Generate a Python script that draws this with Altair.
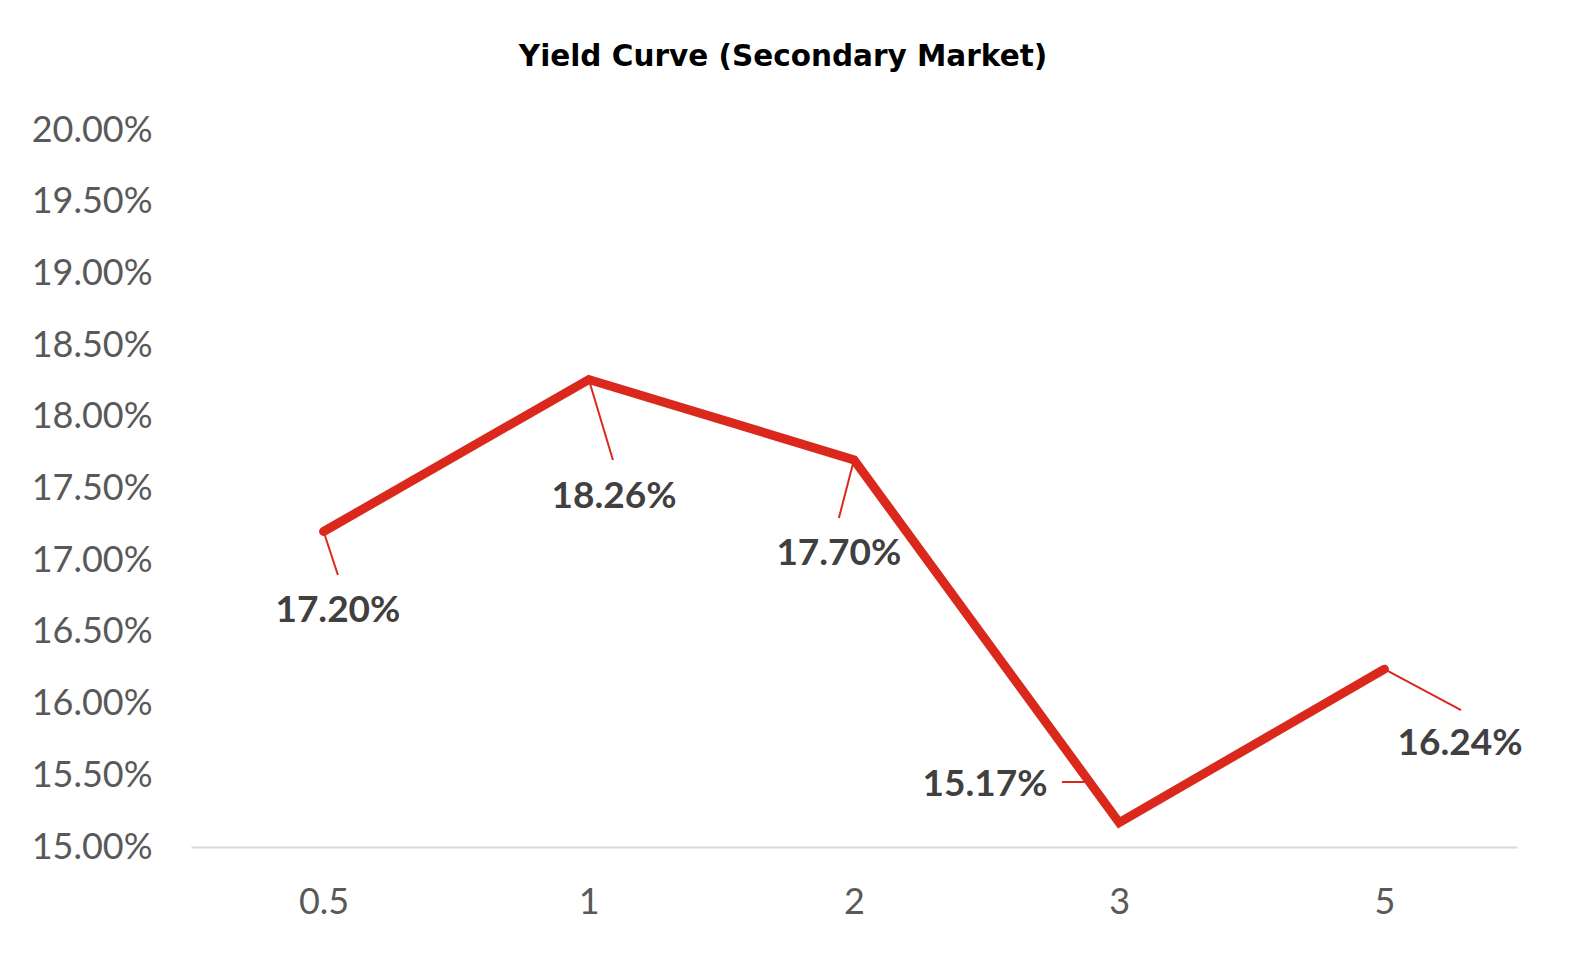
import altair as alt
import pandas as pd

# Data
tenors = ["0.5", "1", "2", "3", "5"]
yields = [0.1720, 0.1826, 0.1770, 0.1517, 0.1624]
label_text = ["17.20%", "18.26%", "17.70%", "15.17%", "16.24%"]

# Data-label anchor positions (in axis units: tenor index, yield)
label_x = [0.054, 1.095, 1.943, 2.494, 4.285]
label_y = [0.16667, 0.17462, 0.17064, 0.15453, 0.15739]
# Leader line ends (polyline points after the data point)
leader_pts = [
    [(0.054, 0.16897)],
    [(1.091, 0.17699)],
    [(1.943, 0.17294)],
    [(2.882, 0.15453), (2.784, 0.15453)],
    [(4.289, 0.15955)],
]

idx = list(range(len(tenors)))
df = pd.DataFrame({"i": idx, "tenor": tenors, "y": yields})
lab = pd.DataFrame({"lx": label_x, "ly": label_y, "t": label_text})

rows = []
for k in idx:
    rows.append({"k": k, "o": 0, "x": idx[k], "y": yields[k]})
    for j, (px, py) in enumerate(leader_pts[k]):
        rows.append({"k": k, "o": j + 1, "x": px, "y": py})
lead = pd.DataFrame(rows)

RED = "#DA291C"
xscale = alt.Scale(domain=[-0.5, 4.5], nice=False, zero=False)
yscale = alt.Scale(domain=[0.15, 0.20], nice=False, zero=False)

label_expr = "[" + ",".join("'%s'" % t for t in tenors) + "][datum.value]"

xaxis = alt.Axis(values=idx, labelExpr=label_expr, title=None, ticks=False, grid=False,
                 domainColor="#D9D9D9", domainWidth=2, labelFont="Lato", labelFontSize=36,
                 labelColor="#595959", labelPadding=38)
yaxis = alt.Axis(values=[0.15 + 0.005 * i for i in range(11)], format=".2%", title=None,
                 ticks=False, grid=False, domain=False, labelFont="Lato", labelFontSize=36,
                 labelColor="#595959", labelPadding=39)

base_line = alt.Chart(df).mark_line(color=RED, strokeWidth=9, strokeCap="round",
                                     strokeJoin="miter").encode(
    x=alt.X("i:Q", scale=xscale, axis=xaxis),
    y=alt.Y("y:Q", scale=yscale, axis=yaxis),
)

leaders = alt.Chart(lead).mark_line(color=RED, strokeWidth=2).encode(
    x=alt.X("x:Q", scale=xscale),
    y=alt.Y("y:Q", scale=yscale),
    detail="k:N",
    order="o:Q",
)

texts = alt.Chart(lab).mark_text(font="Lato", fontSize=37, fontWeight="bold",
                                 color="#404040", baseline="middle", align="center",
                                 dy=3).encode(
    x=alt.X("lx:Q", scale=xscale),
    y=alt.Y("ly:Q", scale=yscale),
    text="t:N",
)

chart = alt.layer(base_line, leaders, texts).properties(
    width=1326, height=717,
    title=alt.TitleParams("Yield Curve (Secondary Market)", font="DejaVu Sans", fontSize=29.5,
                          fontWeight="bold", color="#000000", anchor="middle", dx=-71,
                          offset=40),
    autosize=alt.AutoSizeParams(type="none"),
    padding={"left": 183, "top": 122, "right": 45, "bottom": 99},
).configure_view(stroke=None)

chart.save("out.html", embed_options={"renderer": "svg", "actions": False})
